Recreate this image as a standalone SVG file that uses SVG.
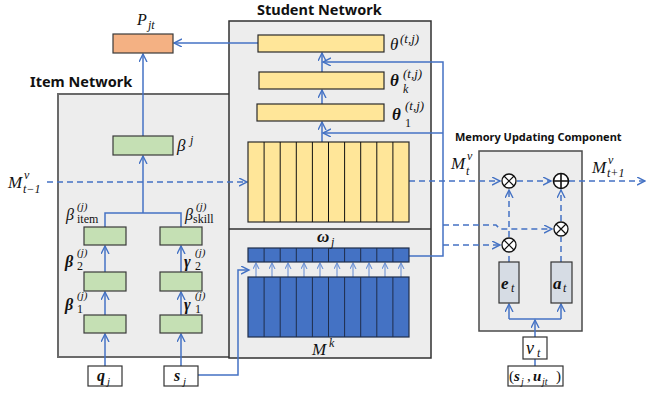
<svg xmlns="http://www.w3.org/2000/svg" width="646" height="394" viewBox="0 0 646 394">
  <defs>
    <marker id="arr" markerUnits="userSpaceOnUse" markerWidth="10" markerHeight="10" refX="8" refY="4" orient="auto">
      <path d="M0,0 L8,4 L0,8" fill="none" stroke="#4472C4" stroke-width="1.4"/>
    </marker>
    <marker id="arrs" markerUnits="userSpaceOnUse" markerWidth="8" markerHeight="8" refX="6" refY="3" orient="auto">
      <path d="M0,0 L6,3 L0,6" fill="none" stroke="#6F94D6" stroke-width="1.1"/>
    </marker>
  </defs>
  <style>
    .panel { fill: #EDEDED; stroke: #4A4A4A; stroke-width: 1.5; }
    .green { fill: #C5E0B4; stroke: #3A3A3A; stroke-width: 1.2; }
    .yellow { fill: #FFE699; stroke: #2A2A2A; stroke-width: 1.2; }
    .blue { fill: #4472C4; stroke: #1F2D4A; stroke-width: 1.2; }
    .gate { fill: #D6DCE4; stroke: #333; stroke-width: 1.2; }
    .inp { fill: #FFFFFF; stroke: #333; stroke-width: 1.2; }
    .div { stroke: #111; stroke-width: 1; }
    .divb { stroke: #1F2D4A; stroke-width: 1; }
    .ln { fill: none; stroke: #4472C4; stroke-width: 1.5; }
    .dash { fill: none; stroke: #4472C4; stroke-width: 1.5; stroke-dasharray: 6 4; }
    .thin { fill: none; stroke: #6F94D6; stroke-width: 1.1; }
    .op { fill: #FFFFFF; stroke: #111; stroke-width: 1.3; }
    .title { font-family: "Noto Sans", "Liberation Sans", sans-serif; font-weight: bold; fill: #111; }
    .m { font-family: "Liberation Serif", "DejaVu Serif", serif; font-style: italic; fill: #111; }
    .mb { font-family: "Liberation Serif", "DejaVu Serif", serif; font-style: italic; font-weight: bold; fill: #111; }
    .r { font-family: "Liberation Serif", "DejaVu Serif", serif; fill: #111; }
  </style>

  <!-- panels -->
  <g id="item-network">
    <rect class="panel" x="58" y="94" width="172" height="263" style="stroke:#6A6A6A;stroke-width:2"/>
    <text class="title" x="30" y="87" font-size="14.5">Item Network</text>
  </g>
  <g id="student-network">
    <rect class="panel" x="229" y="21" width="202" height="337" style="stroke:#303030"/>
    <line x1="229" y1="229" x2="431" y2="229" stroke="#303030" stroke-width="1.5"/>
    <text class="title" x="257" y="15" font-size="14.5">Student Network</text>
  </g>
  <g id="memory-updating">
    <rect class="panel" x="479" y="151" width="103" height="180" style="stroke:#4A4A4A"/>
    <text class="title" x="455" y="141" font-size="11">Memory Updating Component</text>
  </g>

  <!-- connectors -->
  <g id="connectors">
    <!-- item network -->
    <line class="ln" x1="105" y1="366" x2="105" y2="334" marker-end="url(#arr)"/>
    <line class="ln" x1="181" y1="366" x2="181" y2="334" marker-end="url(#arr)"/>
    <line class="ln" x1="105" y1="315" x2="105" y2="292" marker-end="url(#arr)"/>
    <line class="ln" x1="181" y1="315" x2="181" y2="292" marker-end="url(#arr)"/>
    <line class="ln" x1="105" y1="272" x2="105" y2="246" marker-end="url(#arr)"/>
    <line class="ln" x1="181" y1="272" x2="181" y2="246" marker-end="url(#arr)"/>
    <path class="ln" d="M105,227 V213 H181 V227"/>
    <line class="ln" x1="143" y1="213" x2="143" y2="156" marker-end="url(#arr)"/>
    <line class="ln" x1="143" y1="136" x2="143" y2="54" marker-end="url(#arr)"/>
    <!-- student output to prediction -->
    <line class="ln" x1="258" y1="43" x2="174" y2="43" marker-end="url(#arr)"/>
    <!-- skill input to attention -->
    <path class="ln" d="M198,375 H238 V270 H249" marker-end="url(#arr)"/>
    <!-- student network stack -->
    <line class="ln" x1="322" y1="142" x2="322" y2="122" marker-end="url(#arr)"/>
    <line class="ln" x1="322" y1="104" x2="322" y2="90" marker-end="url(#arr)"/>
    <line class="ln" x1="322" y1="72" x2="322" y2="53" marker-end="url(#arr)"/>
    <!-- attention weights fed back -->
    <path class="ln" d="M409,256 H443 V62 H323" marker-end="url(#arr)"/>
    <line class="ln" x1="443" y1="133" x2="323" y2="133" marker-end="url(#arr)"/>
    <!-- value memory flow -->
    <line class="dash" x1="47" y1="182" x2="247" y2="182" marker-end="url(#arr)"/>
    <line class="dash" x1="409" y1="181" x2="500" y2="181" marker-end="url(#arr)"/>
    <path class="dash" d="M443,225 H496 L500,229 H552" marker-end="url(#arr)"/>
    <line class="dash" x1="443" y1="245" x2="500" y2="245" marker-end="url(#arr)"/>
    <line class="dash" x1="517" y1="181" x2="551" y2="181" marker-end="url(#arr)"/>
    <line class="dash" x1="569" y1="181" x2="645" y2="181" marker-end="url(#arr)"/>
    <line class="dash" x1="509" y1="237" x2="509" y2="190" marker-end="url(#arr)"/>
    <line class="dash" x1="561" y1="221" x2="561" y2="190" marker-end="url(#arr)"/>
    <line class="dash" x1="509" y1="262" x2="509" y2="253" stroke-dasharray="4 3"/>
    <line class="dash" x1="561" y1="262" x2="561" y2="237" stroke-dasharray="4 3"/>
    <!-- erase / add inputs -->
    <line class="ln" x1="535" y1="337" x2="535" y2="320" marker-end="url(#arr)"/>
    <path class="ln" d="M509,319 H561"/>
    <line class="ln" x1="509" y1="319" x2="509" y2="304" marker-end="url(#arr)"/>
    <line class="ln" x1="561" y1="319" x2="561" y2="304" marker-end="url(#arr)"/>
    <line class="ln" x1="535" y1="366" x2="535" y2="359"/>
    <!-- key memory to attention -->
    <g class="thin">
      <line x1="256" y1="277" x2="256" y2="263" marker-end="url(#arrs)"/>
      <line x1="272" y1="277" x2="272" y2="263" marker-end="url(#arrs)"/>
      <line x1="288" y1="277" x2="288" y2="263" marker-end="url(#arrs)"/>
      <line x1="304" y1="277" x2="304" y2="263" marker-end="url(#arrs)"/>
      <line x1="320" y1="277" x2="320" y2="263" marker-end="url(#arrs)"/>
      <line x1="337" y1="277" x2="337" y2="263" marker-end="url(#arrs)"/>
      <line x1="353" y1="277" x2="353" y2="263" marker-end="url(#arrs)"/>
      <line x1="369" y1="277" x2="369" y2="263" marker-end="url(#arrs)"/>
      <line x1="385" y1="277" x2="385" y2="263" marker-end="url(#arrs)"/>
      <line x1="401" y1="277" x2="401" y2="263" marker-end="url(#arrs)"/>
    </g>
  </g>

  <!-- prediction -->
  <g id="node-p">
    <rect x="113" y="34" width="60" height="19" fill="#F4B183" stroke="#3A3A3A" stroke-width="1.2"/>
    <text class="m" x="137" y="25" font-size="16">P</text>
    <text class="m" x="148" y="29" font-size="12">jt</text>
  </g>

  <!-- item network nodes -->
  <g id="node-beta">
    <rect class="green" x="113" y="136" width="60" height="19"/>
    <text class="m" x="177" y="151" font-size="17">β</text>
    <text class="m" x="190" y="144" font-size="12">j</text>
  </g>
  <g id="node-beta-item">
    <rect class="green" x="84" y="227" width="42" height="18"/>
    <text class="m" x="66" y="220" font-size="16">β</text>
    <text class="m" x="77" y="210" font-size="11">(j)</text>
    <text class="r" x="77" y="223" font-size="12">item</text>
  </g>
  <g id="node-beta-skill">
    <rect class="green" x="160" y="227" width="42" height="18"/>
    <text class="m" x="185" y="220" font-size="16">β</text>
    <text class="m" x="196" y="210" font-size="11">(j)</text>
    <text class="r" x="193" y="223" font-size="12">skill</text>
  </g>
  <g id="node-beta2">
    <rect class="green" x="84" y="272" width="42" height="19"/>
    <text class="mb" x="65" y="267" font-size="16">β</text>
    <text class="m" x="77" y="256" font-size="11">(j)</text>
    <text class="r" x="77" y="270" font-size="12">2</text>
  </g>
  <g id="node-gamma2">
    <rect class="green" x="160" y="272" width="42" height="19"/>
    <text class="mb" x="184" y="267" font-size="16">γ</text>
    <text class="m" x="195" y="256" font-size="11">(j)</text>
    <text class="r" x="195" y="270" font-size="12">2</text>
  </g>
  <g id="node-beta1">
    <rect class="green" x="84" y="315" width="42" height="18"/>
    <text class="mb" x="65" y="310" font-size="16">β</text>
    <text class="m" x="77" y="299" font-size="11">(j)</text>
    <text class="r" x="77" y="313" font-size="12">1</text>
  </g>
  <g id="node-gamma1">
    <rect class="green" x="160" y="315" width="42" height="18"/>
    <text class="mb" x="184" y="310" font-size="16">γ</text>
    <text class="m" x="195" y="299" font-size="11">(j)</text>
    <text class="r" x="195" y="313" font-size="12">1</text>
  </g>
  <g id="node-q">
    <rect class="inp" x="88" y="366" width="34" height="20"/>
    <text class="mb" x="97" y="381" font-size="16">q</text>
    <text class="m" x="107" y="385" font-size="11">j</text>
  </g>
  <g id="node-s">
    <rect class="inp" x="164" y="366" width="34" height="20"/>
    <text class="mb" x="174" y="381" font-size="16">s</text>
    <text class="m" x="183" y="385" font-size="11">j</text>
  </g>

  <!-- student network nodes -->
  <g id="node-theta">
    <rect class="yellow" x="258" y="35" width="126" height="17"/>
    <text class="m" x="390" y="50" font-size="17">θ</text>
    <text class="m" x="400" y="43" font-size="13">(t,j)</text>
  </g>
  <g id="node-theta-k">
    <rect class="yellow" x="259" y="72" width="125" height="17"/>
    <text class="mb" x="390" y="86" font-size="17">θ</text>
    <text class="m" x="403" y="78" font-size="13">(t,j)</text>
    <text class="m" x="403" y="93" font-size="12">k</text>
  </g>
  <g id="node-theta-1">
    <rect class="yellow" x="257" y="104" width="127" height="17"/>
    <text class="mb" x="392" y="120" font-size="17">θ</text>
    <text class="m" x="405" y="110" font-size="13">(t,j)</text>
    <text class="r" x="405" y="127" font-size="12">1</text>
  </g>
  <g id="node-value-memory">
    <rect class="yellow" x="248" y="142" width="161" height="80"/>
    <g class="div">
      <line x1="264.1" y1="142" x2="264.1" y2="222"/>
      <line x1="280.2" y1="142" x2="280.2" y2="222"/>
      <line x1="296.3" y1="142" x2="296.3" y2="222"/>
      <line x1="312.4" y1="142" x2="312.4" y2="222"/>
      <line x1="328.5" y1="142" x2="328.5" y2="222"/>
      <line x1="344.6" y1="142" x2="344.6" y2="222"/>
      <line x1="360.7" y1="142" x2="360.7" y2="222"/>
      <line x1="376.8" y1="142" x2="376.8" y2="222"/>
      <line x1="392.9" y1="142" x2="392.9" y2="222"/>
    </g>
  </g>
  <g id="node-omega">
    <rect class="blue" x="248" y="248" width="161" height="14"/>
    <g class="divb">
      <line x1="264.1" y1="248" x2="264.1" y2="262"/>
      <line x1="280.2" y1="248" x2="280.2" y2="262"/>
      <line x1="296.3" y1="248" x2="296.3" y2="262"/>
      <line x1="312.4" y1="248" x2="312.4" y2="262"/>
      <line x1="328.5" y1="248" x2="328.5" y2="262"/>
      <line x1="344.6" y1="248" x2="344.6" y2="262"/>
      <line x1="360.7" y1="248" x2="360.7" y2="262"/>
      <line x1="376.8" y1="248" x2="376.8" y2="262"/>
      <line x1="392.9" y1="248" x2="392.9" y2="262"/>
    </g>
    <text class="mb" x="317" y="242" font-size="17">ω</text>
    <text class="m" x="331" y="246" font-size="12">j</text>
  </g>
  <g id="node-key-memory">
    <rect class="blue" x="248" y="277" width="161" height="60"/>
    <g class="divb">
      <line x1="264.1" y1="277" x2="264.1" y2="337"/>
      <line x1="280.2" y1="277" x2="280.2" y2="337"/>
      <line x1="296.3" y1="277" x2="296.3" y2="337"/>
      <line x1="312.4" y1="277" x2="312.4" y2="337"/>
      <line x1="328.5" y1="277" x2="328.5" y2="337"/>
      <line x1="344.6" y1="277" x2="344.6" y2="337"/>
      <line x1="360.7" y1="277" x2="360.7" y2="337"/>
      <line x1="376.8" y1="277" x2="376.8" y2="337"/>
      <line x1="392.9" y1="277" x2="392.9" y2="337"/>
    </g>
    <text class="m" x="312" y="355" font-size="17">M</text>
    <text class="m" x="329" y="347" font-size="12">k</text>
  </g>

  <!-- memory labels -->
  <g id="label-m-prev">
    <text class="m" x="8" y="188" font-size="17">M</text>
    <text class="m" x="24" y="179" font-size="12">v</text>
    <text class="m" x="23" y="193" font-size="12">t−1</text>
  </g>
  <g id="label-m-t">
    <text class="m" x="451" y="169" font-size="17">M</text>
    <text class="m" x="467" y="160" font-size="12">v</text>
    <text class="m" x="466" y="175" font-size="12">t</text>
  </g>
  <g id="label-m-next">
    <text class="m" x="592" y="173" font-size="17">M</text>
    <text class="m" x="608" y="164" font-size="12">v</text>
    <text class="m" x="607" y="177" font-size="12">t+1</text>
  </g>

  <!-- memory updating operators -->
  <g id="op-mul-read">
    <circle class="op" cx="509" cy="181" r="7"/>
    <path d="M504,176 L514,186 M514,176 L504,186" stroke="#111" stroke-width="1.2"/>
  </g>
  <g id="op-add">
    <circle class="op" cx="561" cy="181" r="7.5" style="stroke-width:1.6"/>
    <path d="M553.5,181 H568.5 M561,173.5 V188.5" stroke="#111" stroke-width="1.6"/>
  </g>
  <g id="op-mul-add">
    <circle class="op" cx="561" cy="229" r="7"/>
    <path d="M556,224 L566,234 M566,224 L556,234" stroke="#111" stroke-width="1.2"/>
  </g>
  <g id="op-mul-erase">
    <circle class="op" cx="509" cy="245" r="7"/>
    <path d="M504,240 L514,250 M514,240 L504,250" stroke="#111" stroke-width="1.2"/>
  </g>
  <g id="node-e">
    <rect class="gate" x="499" y="262" width="20" height="41"/>
    <text class="mb" x="501" y="289" font-size="17">e</text>
    <text class="m" x="511" y="292" font-size="12">t</text>
  </g>
  <g id="node-a">
    <rect class="gate" x="551" y="262" width="21" height="41"/>
    <text class="mb" x="553" y="289" font-size="17">a</text>
    <text class="m" x="563" y="292" font-size="12">t</text>
  </g>
  <g id="node-v">
    <rect class="inp" x="523" y="337" width="24" height="22"/>
    <text class="m" x="526" y="354" font-size="18">v</text>
    <text class="m" x="537" y="357" font-size="12">t</text>
  </g>
  <g id="node-su">
    <rect class="inp" x="508" y="366" width="55" height="20"/>
    <text class="r" x="509" y="381" font-size="15">(</text>
    <text class="mb" x="514" y="381" font-size="15">s</text>
    <text class="m" x="521" y="385" font-size="10">j</text>
    <text class="r" x="527" y="381" font-size="15">,</text>
    <text class="mb" x="533" y="381" font-size="15">u</text>
    <text class="m" x="542" y="385" font-size="10">jt</text>
    <text class="r" x="556" y="381" font-size="15">)</text>
  </g>
</svg>
